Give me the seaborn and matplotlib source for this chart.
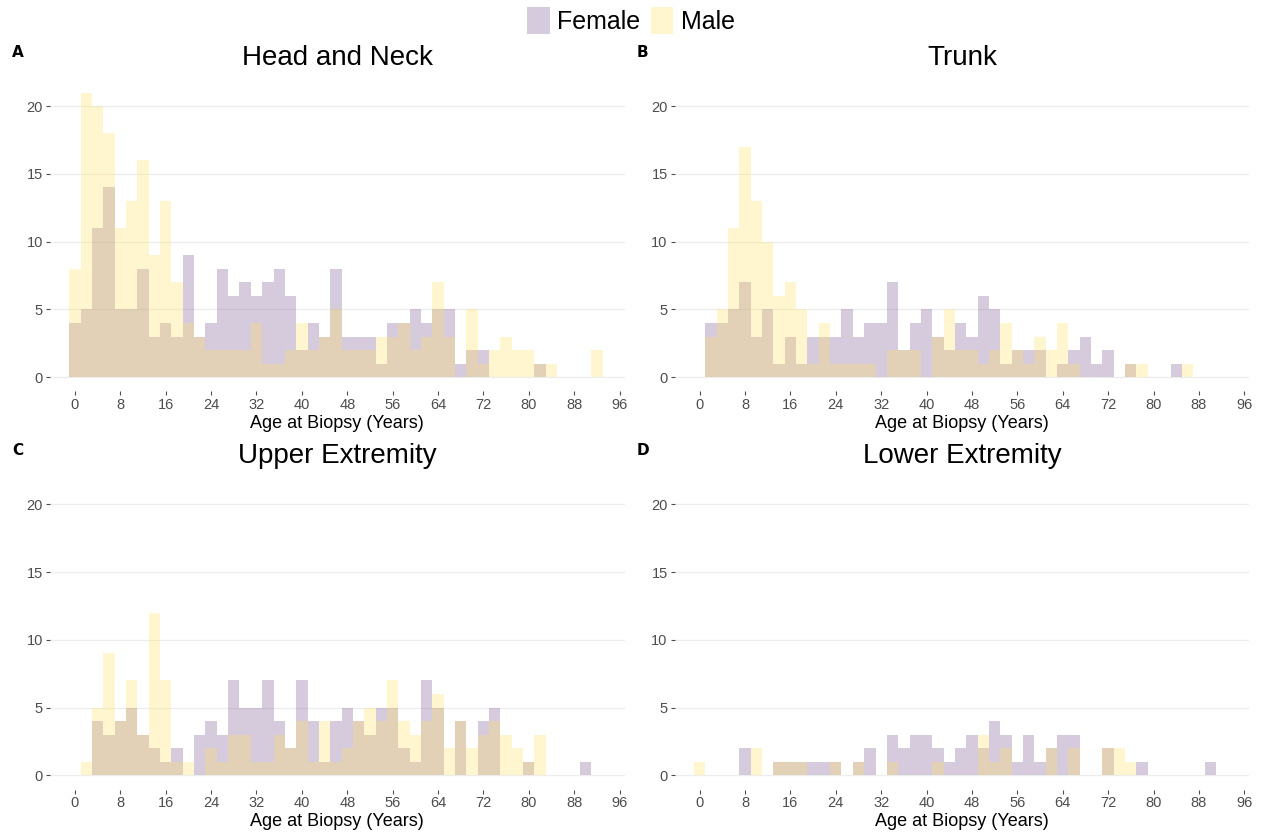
import numpy as np
import pandas as pd
import matplotlib
matplotlib.use('Agg')
import matplotlib.pyplot as plt
from matplotlib.patches import Patch
import seaborn as sns

# bin centres (years), 2-year bins
age_bins = list(range(0, 96, 2))

head_female = [4, 5, 11, 14, 5, 5, 8, 3, 4, 3, 9, 3, 4, 8, 6, 7, 6, 7, 8, 6,
               2, 4, 3, 8, 3, 3, 3, 1, 4, 4, 5, 4, 5, 5, 1, 2, 2, 0, 0, 0,
               0, 1, 0, 0, 0, 0, 0, 0]
head_male = [8, 21, 20, 18, 11, 13, 16, 9, 13, 7, 4, 3, 2, 2, 2, 2, 4, 1, 1, 2,
             4, 2, 3, 5, 2, 2, 2, 3, 3, 4, 2, 3, 7, 3, 0, 5, 1, 2, 3, 2,
             2, 1, 1, 0, 0, 0, 2, 0]
trunk_female = [0, 4, 4, 5, 7, 3, 5, 1, 3, 1, 3, 3, 3, 5, 3, 4, 4, 7, 2, 4,
                5, 3, 2, 4, 3, 6, 5, 1, 2, 2, 2, 0, 1, 2, 3, 1, 2, 0, 1, 0,
                0, 0, 1, 0, 0, 0, 0, 0]
trunk_male = [0, 3, 5, 11, 17, 13, 10, 6, 7, 5, 1, 4, 1, 1, 1, 1, 0, 2, 2, 2,
              0, 3, 5, 2, 2, 1, 2, 4, 2, 1, 3, 2, 4, 1, 0, 0, 0, 0, 1, 1,
              0, 0, 0, 1, 0, 0, 0, 0]
upper_female = [0, 0, 4, 3, 4, 5, 3, 2, 1, 2, 0, 3, 4, 3, 7, 5, 5, 7, 4, 2,
                7, 4, 1, 4, 5, 4, 3, 5, 5, 2, 1, 7, 5, 0, 4, 0, 4, 5, 0, 0,
                1, 0, 0, 0, 0, 1, 0, 0]
upper_male = [0, 1, 5, 9, 4, 7, 3, 12, 7, 1, 1, 0, 2, 1, 3, 3, 1, 1, 3, 2,
              4, 1, 4, 1, 2, 4, 5, 4, 7, 4, 3, 4, 6, 2, 4, 2, 3, 4, 3, 2,
              1, 3, 0, 0, 0, 0, 0, 0]
lower_female = [0, 0, 0, 0, 2, 0, 0, 1, 1, 1, 1, 1, 1, 0, 1, 2, 0, 3, 2, 3,
                3, 2, 1, 2, 3, 2, 4, 3, 1, 3, 1, 2, 3, 3, 0, 0, 2, 0, 0, 1,
                0, 0, 0, 0, 0, 1, 0, 0]
lower_male = [1, 0, 0, 0, 0, 2, 0, 1, 1, 1, 0, 0, 1, 0, 1, 0, 0, 1, 0, 0,
              0, 1, 0, 0, 0, 3, 1, 2, 0, 0, 0, 2, 0, 2, 0, 0, 2, 2, 1, 0,
              0, 0, 0, 0, 0, 0, 0, 0]

regions = ['Head and Neck', 'Trunk', 'Upper Extremity', 'Lower Extremity']
panel_tags = ['A', 'B', 'C', 'D']
counts = {
    'Head and Neck': (head_female, head_male),
    'Trunk': (trunk_female, trunk_male),
    'Upper Extremity': (upper_female, upper_male),
    'Lower Extremity': (lower_female, lower_male),
}

rows = []
for reg in regions:
    fem, mal = counts[reg]
    for sex, vals in (('Female', fem), ('Male', mal)):
        for age, n in zip(age_bins, vals):
            rows.append((reg, sex, age, n))
df = pd.DataFrame(rows, columns=['region', 'sex', 'age', 'n'])

sex_colors = {'Female': '#7A5291', 'Male': '#FFE462'}
alpha = 0.3

sns.set_style('white')
plt.rcParams['font.family'] = ['Liberation Sans', 'DejaVu Sans']

fig, axes = plt.subplots(2, 2, figsize=(12.62, 8.36), dpi=100)
fig.subplots_adjust(left=0.0396, right=0.990, bottom=0.0556, top=0.9062,
                    wspace=0.087, hspace=0.272)

for ax, reg, tag in zip(axes.flat, regions, panel_tags):
    sub = df[df['region'] == reg]
    for sex in ['Female', 'Male']:
        sns.histplot(data=sub[sub['sex'] == sex], x='age', weights='n',
                     binwidth=2, binrange=(-1, 95), element='step', fill=True,
                     color=sex_colors[sex], alpha=alpha, linewidth=0, ax=ax)
    ax.set_xlim(-4.4, 96.9)
    ax.set_ylim(-1.05, 22.05)
    ax.set_xticks(range(0, 97, 8))
    ax.set_yticks(range(0, 21, 5))
    ax.grid(axis='y', color='#EDEDED', linewidth=0.9)
    ax.grid(axis='x', visible=False)
    ax.set_axisbelow(True)
    sns.despine(ax=ax, left=True, bottom=True)
    ax.tick_params(axis='both', which='major', bottom=True, left=True,
                   colors='#4D4D4D', labelsize=10.5, length=3, width=0.8, pad=2)
    ax.set_xlabel('Age at Biopsy (Years)', fontsize=13, labelpad=2, color='black')
    ax.set_ylabel('')
    ax.set_title(reg, fontsize=20, pad=10, color='black')
    bb = ax.get_position()
    fig.text(bb.x0 - 0.030, bb.y1 + 0.031, tag, fontsize=11, fontweight='bold',
             family='DejaVu Sans', ha='left', va='center', color='black')

handles = [Patch(facecolor=sex_colors[s], alpha=alpha, edgecolor='none')
           for s in ['Female', 'Male']]
fig.legend(handles, ['Female', 'Male'], loc='upper center',
           bbox_to_anchor=(0.5, 1.018), ncol=2, frameon=False, fontsize=18,
           handlelength=0.9, handleheight=1.25, handletextpad=0.3,
           columnspacing=0.4, labelcolor='black')

fig.savefig('out.png', dpi=100)
